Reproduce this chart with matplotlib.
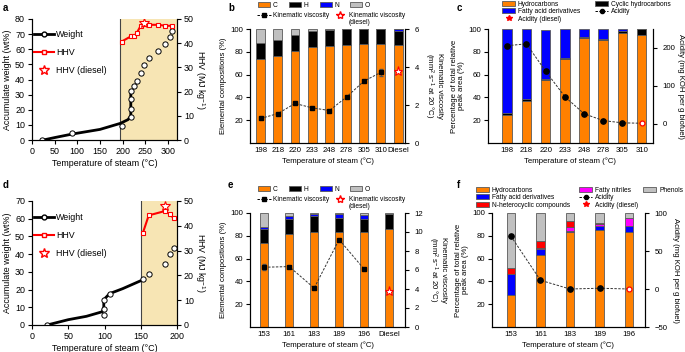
import matplotlib
matplotlib.use("Agg")
import matplotlib.pyplot as plt
from matplotlib.patches import Patch
from matplotlib.lines import Line2D
from matplotlib.legend import Legend
from matplotlib.transforms import ScaledTranslation
import numpy as np

plt.rcParams["font.family"] = ["Liberation Sans", "DejaVu Sans"]
plt.rcParams["font.size"] = 6
plt.rcParams["axes.linewidth"] = 0.8
plt.rcParams["xtick.major.size"] = 3
plt.rcParams["ytick.major.size"] = 3
plt.rcParams["xtick.major.width"] = 0.8
plt.rcParams["ytick.major.width"] = 0.8
plt.rcParams["xtick.major.pad"] = 2
plt.rcParams["ytick.major.pad"] = 2
plt.rcParams["mathtext.default"] = "regular"

ORANGE = "#ff8000"
BLUE = "#0000ff"
GREY = "#c0c0c0"
RED = "#ff0000"
MAGENTA = "#ff00ff"
SHADE = "#f7e5b4"
EDGE = "#5a5a5a"

FS_W = 6.4    # fonts of the weight panels (a, d)
FS_B = 5.6    # fonts of the bar panels
FS_L = 4.8    # legends of the bar panels

# ---- panel a: weight / HHV vs steam temperature ----
a_curve_t = [25, 50, 90, 150, 195, 212, 218, 218]
a_curve_w = [0, 1.6, 4.0, 7.0, 11.0, 13.5, 16.0, 32.7]
a_weight_t = [23, 89, 198, 218, 218, 218, 218, 225, 231, 240, 248, 259, 279, 294, 304, 310]
a_weight = [0, 4.4, 9.5, 15, 20.3, 27.2, 32.7, 36, 39, 44.6, 49.7, 54, 58.6, 63.4, 67.8, 72.3]
a_hhv_t = [198, 218, 225, 231, 240, 248, 259, 279, 294, 310]
a_hhv = [40.7, 42.8, 42.8, 44.2, 47.2, 47.9, 47.6, 47.6, 47.2, 47.2]
a_hhv_diesel = (248, 48.3)
a_shade = (195, 320)

# ---- panel b: elemental composition + viscosity ----
b_labels = ["198", "218", "220", "233", "248", "278", "305", "310", "Diesel"]
b_C = [74.1, 76.5, 80.9, 83.8, 84.7, 86.2, 86.8, 87.1, 85.9]
b_H = [13.5, 14.1, 13.5, 14.1, 14.1, 13.5, 12.9, 12.6, 12.6]
b_N = [0, 0, 0, 0, 0, 0, 0, 0, 1.2]
b_O = [12.4, 9.4, 5.6, 2.1, 1.2, 0.3, 0.3, 0.3, 0.3]
b_visc = [1.29, 1.55, 2.08, 1.85, 1.71, 2.42, 3.25, 3.72]
b_visc_err = [0.04, 0.04, 0.05, 0.04, 0.05, 0.05, 0.05, 0.2]
b_visc_diesel = 3.81

# ---- panel c: GC-MS composition + acidity ----
c_labels = ["198", "218", "220", "233", "248", "278", "305", "310"]
c_hydro = [24.2, 36.5, 55.5, 73.9, 92.0, 90.5, 96.1, 94.9]
c_cyclic = [2.1, 2.0, 0.5, 1.1, 0.6, 0.3, 2.3, 5.1]
c_fatty = [73.7, 61.5, 43.5, 25.0, 7.4, 9.2, 1.6, 0.0]
c_acid = [206, 211, 139, 72, 27, 9, 3]
c_acid_diesel = 2

# ---- panel d: weight / HHV vs steam temperature ----
d_curve_t = [21, 50, 75, 97, 99, 99, 107, 125, 150]
d_curve_w = [0, 3.0, 4.9, 7.5, 10.0, 14.3, 17.7, 20.5, 25.0]
d_weight_t = [21, 99, 99, 99, 107, 153, 161, 184, 190, 196]
d_weight = [0, 5.8, 8.9, 14.3, 17.7, 25.7, 29.0, 34.7, 40.2, 43.2]
d_hhv_t = [153, 161, 184, 190, 196]
d_hhv = [37.2, 44.2, 46.0, 44.6, 43.0]
d_hhv_diesel = (184, 48.0)
d_shade = (150, 200)

# ---- panel e: elemental composition + viscosity ----
e_labels = ["153", "161", "183", "189", "196", "Diesel"]
e_C = [74.1, 81.5, 83.2, 82.9, 82.9, 85.9]
e_H = [11.8, 13.2, 13.8, 12.4, 11.8, 13.1]
e_N = [2.0, 2.3, 2.0, 3.5, 3.5, 0.5]
e_O = [12.1, 3.0, 1.0, 1.2, 1.8, 0.5]
e_visc = [6.29, 6.36, 4.1, 9.2, 6.1]
e_visc_err = [0.3, 0.1, 0.1, 0.1, 0.1]
e_visc_diesel = 3.8

# ---- panel f: GC-MS composition + acidity ----
f_labels = ["153", "161", "183", "189", "196"]
f_hydro = [28.3, 63.4, 83.2, 85.5, 83.2]
f_fatty = [18.4, 4.9, 1.2, 3.0, 5.5]
f_nitrile = [0.0, 1.2, 3.3, 1.8, 6.8]
f_nhet = [5.0, 6.1, 5.7, 1.2, 0.0]
f_phenol = [48.3, 24.4, 6.6, 8.5, 4.5]
f_acid = [69.6, 11.5, 0.0, 1.0]
f_acid_diesel = 0.0


def fig_xy(px, py):
    return (px / 685, 1 - py / 352)


def patch(color):
    return Patch(facecolor=color, edgecolor=EDGE, lw=0.6)


def acid_line():
    return Line2D([], [], color="black", lw=0.7, dashes=(2.5, 1.5), marker="o", ms=3)


def acid_diesel_marker():
    return Line2D([], [], color="none", marker="*", mfc=RED, mec=RED, ms=4)


def small_legend(ax, handles, labels, px, py, **kw):
    # one legend block placed in figure pixels (drawn once)
    opts = dict(loc="upper left", bbox_to_anchor=fig_xy(px, py),
                bbox_transform=ax.figure.transFigure, frameon=False, fontsize=FS_L,
                handlelength=2.0, handleheight=0.75, labelspacing=0.1,
                handletextpad=0.4, borderaxespad=0, borderpad=0)
    opts.update(kw)
    leg = Legend(ax, handles, labels, **opts)
    ax.add_artist(leg)
    return leg


def weight_panel(ax, curve_t, curve_w, wt, w, ht, h, hd, shade, xlim, ylim, yticks, leg_xy):
    ax.axvspan(shade[0], shade[1], color=SHADE, lw=0, zorder=0)
    ax.axvline(shade[0], color="#444444", lw=0.8, zorder=1)
    ax.plot(curve_t, curve_w, color="black", lw=2, zorder=2, solid_capstyle="round")
    ax.plot(wt, w, "o", mfc="white", mec="black", ms=3.8, mew=0.7, zorder=3)
    ax.set_xlim(*xlim)
    ax.set_ylim(*ylim)
    ax.set_yticks(yticks)
    ax.spines["top"].set_visible(False)
    ax.tick_params(labelsize=FS_W)
    ax.set_xlabel("Temperature of steam (°C)", fontsize=FS_W, labelpad=2)
    ax.set_ylabel("Accumulate weight (wt%)", fontsize=FS_W, labelpad=2)

    ax2 = ax.twinx()
    ax2.plot(ht, h, "-s", color=RED, mfc="white", mec=RED, ms=3.5, mew=0.8, lw=1.5)
    ax2.plot([hd[0]], [hd[1]], "*", mfc="white", mec=RED, ms=7, mew=0.8)
    ax2.set_ylim(0, 50)
    ax2.set_yticks([0, 10, 20, 30, 40, 50])
    ax2.spines["top"].set_visible(False)
    ax2.tick_params(labelsize=FS_W)
    ax2.set_ylabel("HHV (MJ kg$^{-1}$)", fontsize=FS_W, rotation=270, labelpad=9)

    handles = [
        Line2D([], [], color="black", lw=2, marker="o", mfc="white", mec="black", ms=3.5),
        Line2D([], [], color=RED, lw=1.5, marker="s", mfc="white", mec=RED, ms=3.5),
        Line2D([], [], color="none", marker="*", mfc="white", mec=RED, ms=7),
    ]
    ax2.legend(handles, ["Weight", "HHV", "HHV (diesel)"], loc="upper left",
               bbox_to_anchor=fig_xy(*leg_xy), bbox_transform=ax.figure.transFigure,
               frameon=False, fontsize=FS_W, handlelength=2.2, labelspacing=1.0,
               handletextpad=0.3, borderaxespad=0, borderpad=0)
    return ax2


def elemental_panel(ax, labels, C, H, N, O, visc, visc_err, visc_diesel, width, xlim,
                    vmax, vticks, leg_y):
    x = np.arange(len(labels))
    bottom = np.zeros(len(labels))
    for vals, col in [(C, ORANGE), (H, "black"), (N, BLUE), (O, GREY)]:
        ax.bar(x, vals, width, bottom=bottom, color=col, edgecolor=EDGE, lw=0.6)
        bottom += np.array(vals)
    ax.set_xlim(*xlim)
    ax.set_ylim(0, 100)
    ax.set_yticks([20, 40, 60, 80, 100])
    ax.set_xticks(x)
    ax.set_xticklabels(labels)
    last = ax.get_xticklabels()[-1]
    last.set_transform(last.get_transform() + ScaledTranslation(3 / 100, 0, ax.figure.dpi_scale_trans))
    ax.spines["top"].set_visible(False)
    ax.tick_params(labelsize=FS_B)
    ax.tick_params(axis="x", length=0, pad=3)
    ax.set_xlabel("Temperature of steam (°C)", fontsize=FS_B, labelpad=2)
    ax.set_ylabel("Elemental compositions (%)", fontsize=FS_B, labelpad=2)

    ax2 = ax.twinx()
    xv = x[:len(visc)]
    ax2.errorbar(xv, visc, yerr=visc_err, fmt="s", color="black", ms=3.2,
                 elinewidth=0.6, capsize=1.2, ecolor="#555555", zorder=3)
    ax2.plot(xv, visc, color="#333333", lw=0.7, dashes=(2.5, 1.5))
    ax2.plot([x[-1]], [visc_diesel], "*", mfc="white", mec=RED, ms=6.5, mew=0.8)
    ax2.set_ylim(0, vmax)
    ax2.set_yticks(vticks)
    ax2.set_xlim(*xlim)
    ax2.spines["top"].set_visible(False)
    ax2.tick_params(labelsize=FS_B, pad=4)
    ax2.set_ylabel("Kinematic viscosity\n(mm$^{2}$ s$^{-1}$ at 20 °C)", fontsize=FS_B,
                   rotation=270, labelpad=17, linespacing=1.1)

    patches = [patch(c) for c in [ORANGE, "black", BLUE, GREY]]
    small_legend(ax2, patches, ["C", "H", "N", "O"], 258, leg_y, ncol=4,
                 handlelength=1.8, columnspacing=1.7)
    lines = [
        Line2D([], [], color="black", lw=0.7, dashes=(2.5, 1.5), marker="s", ms=3),
        Line2D([], [], color="none", marker="*", mfc="white", mec=RED, ms=6),
    ]
    leg = small_legend(ax2, lines, ["Kinematic viscosity", "Kinematic viscosity"],
                       257, leg_y + 10, ncol=2, handlelength=2.1, columnspacing=0.5,
                       handletextpad=0.3)
    leg.set_zorder(5)
    ax2.annotate("(diesel)", xy=(0, 0), xycoords=leg.get_texts()[1], xytext=(0, 0.3),
                 textcoords="offset points", va="top", ha="left", fontsize=FS_L,
                 zorder=10, annotation_clip=False)
    return ax2


def composition_panel(ax, labels, stacks, width, xlim):
    x = np.arange(len(labels))
    bottom = np.zeros(len(labels))
    for vals, col in stacks:
        ax.bar(x, vals, width, bottom=bottom, color=col, edgecolor=EDGE, lw=0.6)
        bottom += np.array(vals)
    ax.set_xlim(*xlim)
    ax.set_ylim(0, 100)
    ax.set_yticks([20, 40, 60, 80, 100])
    ax.set_xticks(x)
    ax.set_xticklabels(labels)
    ax.spines["top"].set_visible(False)
    ax.tick_params(labelsize=FS_B)
    ax.tick_params(axis="x", length=0, pad=3)
    ax.set_xlabel("Temperature of steam (°C)", fontsize=FS_B, labelpad=2)
    ax.set_ylabel("Percentage of total relative\npeak area (%)", fontsize=FS_B,
                  labelpad=2, linespacing=1.1)
    return x


def acidity_axis(ax, x, acid, acid_diesel, ylim, yticks, yticklabels, labelpad):
    ax2 = ax.twinx()
    ax2.plot(x, list(acid) + [acid_diesel], color="#333333", lw=0.7, dashes=(2.5, 1.5))
    ax2.plot(x[:len(acid)], acid, "o", color="black", ms=3.8)
    ax2.plot([x[-1]], [acid_diesel], "o", mfc="white", mec=RED, ms=3.5, mew=0.9)
    ax2.set_ylim(*ylim)
    ax2.set_yticks(yticks)
    ax2.set_yticklabels(yticklabels)
    ax2.spines["top"].set_visible(False)
    ax2.tick_params(labelsize=FS_B, pad=4)
    ax2.set_ylabel("Acidity (mg KOH per g biofuel)", fontsize=FS_B, rotation=270,
                   labelpad=labelpad)
    return ax2


fig = plt.figure(figsize=(6.85, 3.52), dpi=100)

# panel a
ax_a = fig.add_axes([32 / 685, 1 - 140 / 352, 145 / 685, 121 / 352])
weight_panel(ax_a, a_curve_t, a_curve_w, a_weight_t, a_weight, a_hhv_t, a_hhv,
             a_hhv_diesel, a_shade, (0, 320), (0, 80), range(0, 81, 10), (34, 30))
ax_a.set_xticks(range(0, 301, 50))

# panel d
ax_d = fig.add_axes([32 / 685, 1 - 325 / 352, 145 / 685, 124 / 352])
weight_panel(ax_d, d_curve_t, d_curve_w, d_weight_t, d_weight, d_hhv_t, d_hhv,
             d_hhv_diesel, d_shade, (0, 200), (0, 70), range(0, 71, 10), (34, 213))
ax_d.set_xticks(range(0, 201, 50))

# panel b
ax_b = fig.add_axes([250 / 685, 1 - 143 / 352, 155 / 685, 114 / 352])
elemental_panel(ax_b, b_labels, b_C, b_H, b_N, b_O, b_visc, b_visc_err, b_visc_diesel,
                0.52, (-0.62, 8.4), 6, [0, 2, 4, 6], 2)

# panel e
ax_e = fig.add_axes([250 / 685, 1 - 327 / 352, 155 / 685, 114 / 352])
elemental_panel(ax_e, e_labels, e_C, e_H, e_N, e_O, e_visc, e_visc_err, e_visc_diesel,
                0.31, (-0.57, 5.64), 12, [0, 2, 4, 6, 8, 10, 12], 186)

# panel c
ax_c = fig.add_axes([488 / 685, 1 - 143 / 352, 165 / 685, 114 / 352])
xc = composition_panel(ax_c, c_labels,
                       [(c_hydro, ORANGE), (c_cyclic, "black"), (c_fatty, BLUE)],
                       0.5, (-1.0, 7.59))
ax_c2 = acidity_axis(ax_c, xc, c_acid, c_acid_diesel, (-50, 250), [0, 100, 200],
                     ["0", "100", "200"], 6)
small_legend(ax_c2, [patch(ORANGE), patch(BLUE), acid_diesel_marker()],
             ["Hydrocarbons", "Fatty acid derivatives", "Acidity (diesel)"], 502, 0.5)
small_legend(ax_c2, [patch("black"), acid_line()],
             ["Cyclic hydrocarbons", "Acidity"], 595, 0.5)

# panel f
ax_f = fig.add_axes([492 / 685, 1 - 327 / 352, 153 / 685, 114 / 352])
xf = composition_panel(ax_f, f_labels,
                       [(f_hydro, ORANGE), (f_fatty, BLUE), (f_nitrile, MAGENTA),
                        (f_nhet, RED), (f_phenol, GREY)],
                       0.29, (-0.64, 4.54))
ax_f2 = acidity_axis(ax_f, xf, f_acid, f_acid_diesel, (-50, 100), [-50, 0, 50, 100],
                     ["\u221250", "0", "50", "100"], 8)
small_legend(ax_f2, [patch(ORANGE), patch(BLUE), patch(RED)],
             ["Hydrocarbons", "Fatty acid derivatives", "N-heterocyclic compounds"], 476, 186.5)
small_legend(ax_f2, [patch(MAGENTA), acid_line(), acid_diesel_marker()],
             ["Fatty nitriles", "Acidity", "Acidity (diesel)"], 579, 186.5)
small_legend(ax_f2, [patch(GREY)], ["Phenols"], 643, 186.5)

# panel letters
for lab, px, py in [("a", 3, 11), ("b", 228, 11), ("c", 457, 11),
                    ("d", 3, 188), ("e", 228, 188), ("f", 457, 188)]:
    fig.text(*fig_xy(px, py), lab, fontsize=7, fontweight="bold")

fig.savefig("out.png", dpi=100)
